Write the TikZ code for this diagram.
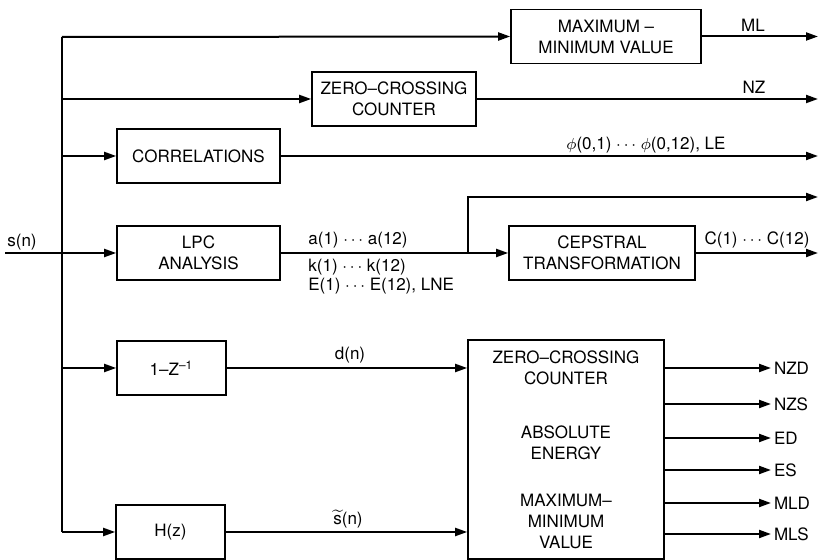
\documentclass[tikz,border=0pt]{standalone}
\usepackage{fontspec}
\setmainfont{TeX Gyre Heros}
\usetikzlibrary{arrows.meta,positioning,calc}
\tikzset{
  blk/.style={draw,rectangle,line width=0.8pt,minimum width=81.5pt,minimum height=27pt,align=center,inner sep=1pt},
  arr/.style={-{Triangle[length=6pt,width=4pt]},line width=1pt},
  wire/.style={line width=1pt},
  lbl/.style={align=center,inner sep=1pt}
}

\begin{document}
\begin{tikzpicture}[x=0.5pt,y=-0.5pt,every node/.style={font=\fontsize{8.5}{10.5}\selectfont}]
  \useasboundingbox (0,0) rectangle (821,560);
  % blocks
  \node[blk,minimum width=95pt] (mm) at (606,36.5) {MAXIMUM --\\MINIMUM VALUE};
  \node[blk,minimum width=82pt] (zc) at (394,99) {ZERO--CROSSING\\COUNTER};
  \node[blk] (corr) at (198.5,156) {CORRELATIONS};
  \node[blk] (lpc) at (198.5,253) {LPC\\ANALYSIS};
  \node[blk,minimum width=93pt] (cep) at (602,253) {CEPSTRAL\\TRANSFORMATION};
  \node[blk,minimum width=54.5pt] (dz) at (171.5,368) {1--Z\textsuperscript{--1}};
  \node[blk,minimum width=54.5pt] (hz) at (170.5,532) {H(z)};
  \node[blk,minimum width=98pt,minimum height=109.5pt] (big) at (566,449.5) {};
  \node[lbl] (bzc) at (566,368) {ZERO--CROSSING\\COUNTER};
  \node[lbl] (bae) at (566,443) {ABSOLUTE\\ENERGY};
  \node[lbl] (bmm) at (566,521) {MAXIMUM--\\MINIMUM\\VALUE};

  % bus and input
  \coordinate (bt) at (62,37);
  \coordinate (bb) at (62,532);
  \coordinate (sin) at (5,253);
  \coordinate (rim) at (818,0);
  \draw[wire] (bt) -- (bb);
  \draw[arr] (bt) -- (mm.west);
  \draw[arr] (bt |- zc.west) -- (zc.west);
  \draw[arr] (bt |- corr.west) -- (corr.west);
  \draw[arr] (sin) -- (lpc.west);
  \draw[arr] (bt |- dz.west) -- (dz.west);
  \draw[arr] (bb) -- (hz.west);
  \node[lbl] (sn) at (22,242) {s(n)};

  % outputs
  \draw[arr] (mm.east) -- (mm.east -| rim);
  \node[lbl] (ml) at (753,25) {ML};
  \draw[arr] (zc.east) -- (zc.east -| rim);
  \node[lbl] (nz) at (754,87) {NZ};
  \draw[arr] (corr.east) -- (corr.east -| rim);
  \node[lbl] (phi) at (646,145) {$\phi$(0,1) $\cdots$ $\phi$(0,12), LE};

  \coordinate (br) at (468,253);
  \coordinate (lpcout) at (818,197);
  \draw[wire] (lpc.east) -- (br);
  \draw[arr] (br) -- (cep.west);
  \draw[arr] (br) |- (lpcout);
  \node[lbl,anchor=west] (ak) at (306,240) {a(1) $\cdots$ a(12)};
  \node[lbl,anchor=west] (kk) at (306,267) {k(1) $\cdots$ k(12)};
  \node[lbl,anchor=west] (ek) at (306,286) {E(1) $\cdots$ E(12), LNE};
  \draw[arr] (cep.east) -- (cep.east -| rim);
  \node[lbl] (cc) at (757,240) {C(1) $\cdots$ C(12)};

  \draw[arr] (dz.east) -- (dz.east -| big.west);
  \node[lbl] (dn) at (350,355) {d(n)};
  \draw[arr] (hz.east) -- (hz.east -| big.west);
  \node[lbl] (stn) at (348,519) {$\widetilde{\mbox{s}}$(n)};

  \foreach \y/\t in {368/NZD,404/NZS,438/ED,470/ES,503/MLD,534/MLS}{
    \coordinate (o\t) at (771,\y);
    \draw[arr] (big.east |- o\t) -- (o\t) node[right,inner sep=1pt] (l\t) {\t};
  }
\end{tikzpicture}
\end{document}
